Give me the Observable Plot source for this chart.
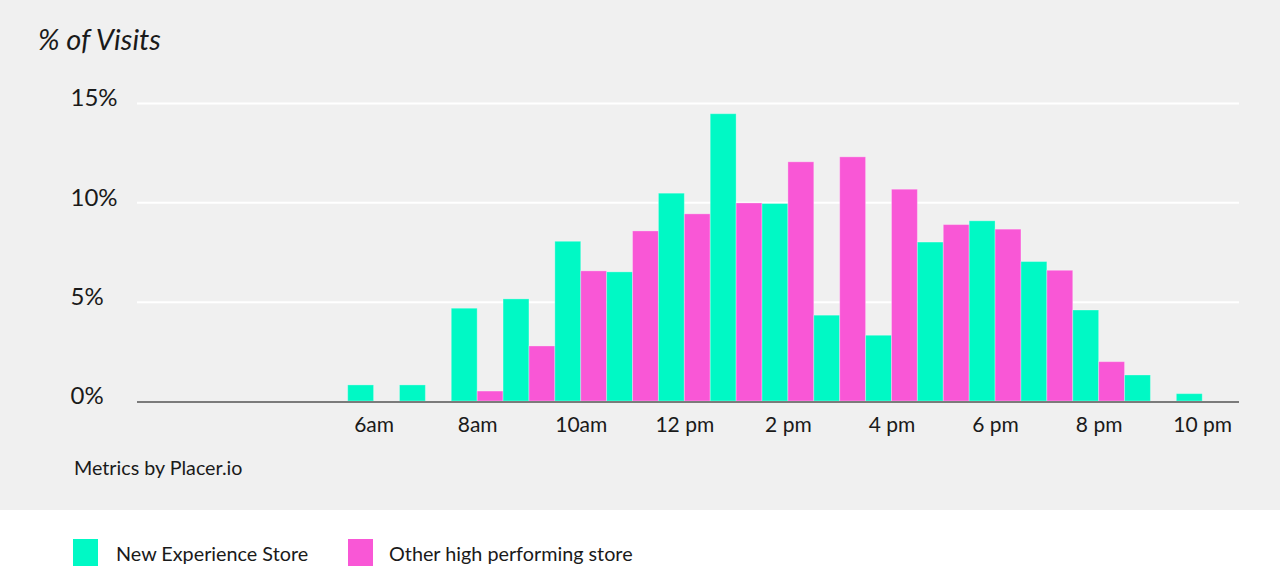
<!DOCTYPE html>
<html>
<head>
<meta charset="utf-8">
<script src="https://cdn.jsdelivr.net/npm/d3@7"></script>
<script src="https://cdn.jsdelivr.net/npm/@observablehq/plot@0.6"></script>
<style>
  html, body { margin: 0; padding: 0; background: #ffffff; font-family: Lato, "Open Sans", sans-serif; color: #1a1a1a; }
  #panel { position: relative; width: 1280px; height: 510px; background: #f0f0f0; }
  #title { position: absolute; left: 38px; top: 22px; font-size: 29px; font-style: italic; line-height: 34px; }
  #chart { position: absolute; left: 0; top: 70px; }
  #caption { position: absolute; left: 74px; top: 456px; font-size: 19.7px; line-height: 24px; }
  #legend { position: relative; width: 1280px; height: 59px; }
  .item { position: absolute; top: 29px; height: 27px; display: flex; align-items: center; font-size: 19.8px; }
  .sw { width: 25px; height: 27px; margin-right: 18px; }
</style>
</head>
<body>
<div id="panel">
  <div id="title">% of Visits</div>
  <div id="chart"></div>
  <div id="caption">Metrics by Placer.io</div>
</div>
<div id="legend"></div>
<script>
// Data
const hours = [6, 7, 8, 9, 10, 11, 12, 13, 14, 15, 16, 17, 18, 19, 20, 21, 22];
const newExperienceStore = [0.81, 0.81, 4.67, 5.14, 8.04, 6.50, 10.46, 14.46, 9.94, 4.32, 3.31, 8.00, 9.07, 7.02, 4.58, 1.31, 0.37];
const otherHighPerforming = [null, null, 0.50, 2.77, 6.55, 8.56, 9.42, 9.97, 12.04, 12.29, 10.66, 8.88, 8.65, 6.58, 1.98, null, null];
const seriesNames = ["New Experience Store", "Other high performing store"];
const seriesColors = ["#00f9c5", "#f957d6"];
const tickHours = [6, 8, 10, 12, 14, 16, 18, 20, 22];
const tickLabels = ["6am", "8am", "10am", "12 pm", "2 pm", "4 pm", "6 pm", "8 pm", "10 pm"];
const yTicks = [0, 5, 10, 15];
const yTickLabels = ["0%", "5%", "10%", "15%"];

const rows = [];
hours.forEach((h, i) => {
  if (newExperienceStore[i] != null) rows.push({hour: h, series: seriesNames[0], k: 0, value: newExperienceStore[i]});
  if (otherHighPerforming[i] != null) rows.push({hour: h, series: seriesNames[1], k: 1, value: otherHighPerforming[i]});
});
const xLabel = new Map(tickHours.map((h, i) => [h + 0.5, tickLabels[i]]));
const yLabel = new Map(yTicks.map((v, i) => [v, yTickLabels[i]]));

const plot = Plot.plot({
  width: 1280,
  height: 380,
  marginLeft: 137,
  marginRight: 41,
  marginTop: 33,
  marginBottom: 49,
  style: {background: "transparent", fontFamily: "Lato, 'Open Sans', sans-serif", color: "#1a1a1a"},
  x: {type: "linear", domain: [1.932, 23.21]},
  y: {domain: [0, 15]},
  color: {domain: seriesNames, range: seriesColors},
  marks: [
    Plot.gridY(yTicks.filter(v => v > 0), {stroke: "#ffffff", strokeOpacity: 1, strokeWidth: 2}),
    Plot.rectY(rows, {
      x1: d => d.hour + d.k * 0.5,
      x2: d => d.hour + d.k * 0.5 + 0.5,
      y: "value",
      fill: "series",
      stroke: "#ffffff",
      strokeOpacity: 0.3,
      strokeWidth: 1
    }),
    Plot.ruleY([0], {stroke: "#555555", strokeWidth: 1.6, dy: 0.5}),
    Plot.axisX(tickHours.map(h => h + 0.5), {
      tickSize: 0,
      tickPadding: 16,
      fontSize: 21,
      tickFormat: d => xLabel.get(d),
      label: null
    }),
    Plot.axisY(yTicks, {
      tickSize: 0,
      tickPadding: 0,
      textAnchor: "start",
      dx: -67,
      dy: -5,
      fontSize: 24,
      tickFormat: d => yLabel.get(d),
      label: null
    })
  ]
});
document.getElementById("chart").appendChild(plot);

const legend = document.getElementById("legend");
const lefts = [73, 348];
seriesNames.forEach((name, i) => {
  const item = document.createElement("div");
  item.className = "item";
  item.style.left = lefts[i] + "px";
  const sw = document.createElement("div");
  sw.className = "sw";
  sw.style.background = seriesColors[i];
  if (i === 1) sw.style.marginRight = "16px";
  item.appendChild(sw);
  const t = document.createElement("span");
  t.textContent = name;
  item.appendChild(t);
  legend.appendChild(item);
});
</script>
</body>
</html>
